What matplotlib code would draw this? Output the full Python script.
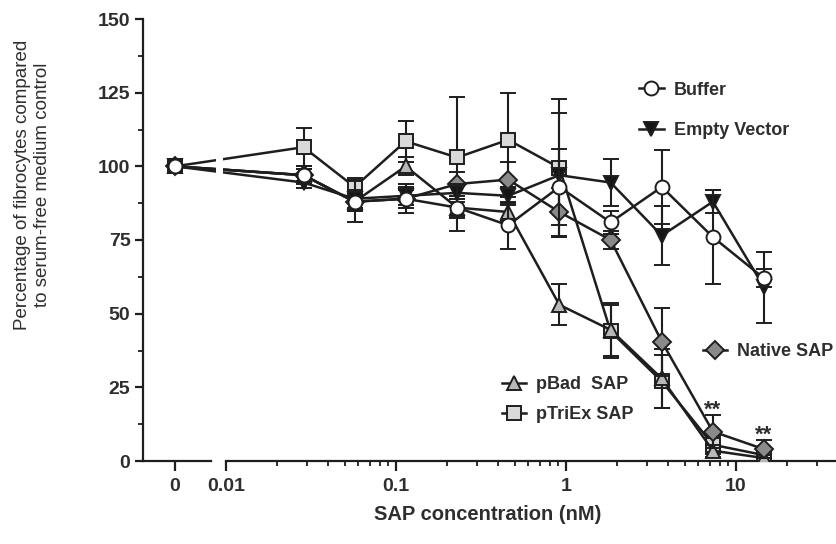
import numpy as np
import matplotlib
matplotlib.use('Agg')
import matplotlib.pyplot as plt
from matplotlib.lines import Line2D
from matplotlib.ticker import FixedLocator, FixedFormatter, NullFormatter

plt.rcParams['font.family'] = ['Liberation Sans', 'DejaVu Sans']

# SAP concentration (nM), 0 = serum-free control
conc = [0, 0.0286, 0.0571, 0.114, 0.229, 0.457, 0.914, 1.83, 3.66, 7.31, 14.6]

buffer_mean = [100, 97, 88, 89, 86, 80, 93, 81, 93, 76, 62]
buffer_err = [0, 3, 7, 5, 8, 8, 13, 4, 12.5, 16, 3]

empty_mean = [100, 94.5, 89, 90, 91, 90, 97, 94.5, 76.5, 88, 59]
empty_err = [0, 2, 3, 3, 3, 3, 21, 8, 10, 4, 12]

native_mean = [100, 97, 88, 89, 94, 95.5, 84.5, 75, 40.5, 10, 4]
native_err = [0, 2, 3, 3, 4, 6, 8, 3, 11.5, 5.5, 3]

pbad_mean = [100, 97, 88, 100, 86, 84.5, 53, 44.5, 28, 3.5, 1]
pbad_err = [0, 2, 3, 3, 3, 3, 7, 9, 10, 2, 1]

ptriex_mean = [100, 106.5, 93, 108.5, 103, 109, 99.5, 44, 27, 5.5, 2]
ptriex_err = [0, 6.5, 3, 7, 20.5, 16, 23.5, 9, 9, 3, 1]

x_major = [0, 0.01, 0.1, 1, 10]
x_major_labels = ['0', '0.01', '0.1', '1', '10']
y_major = [0, 25, 50, 75, 100, 125, 150]

# broken axis: "0" sits left of the log decades
ZERO_POS = -2.3
SLOPE = 30.0


def fwd(x):
    x = np.asarray(x, dtype=float)
    with np.errstate(divide='ignore', invalid='ignore'):
        lg = np.log10(np.where(x > 0, x, 1.0))
    return np.where(x >= 0.01, lg, ZERO_POS + x * SLOPE)


def inv(y):
    y = np.asarray(y, dtype=float)
    return np.where(y >= -2.0, 10.0 ** y, (y - ZERO_POS) / SLOPE)


fig = plt.figure(figsize=(8.37, 5.44), dpi=100)
ax = fig.add_axes([143 / 837, 83 / 544, 694 / 837, 442 / 544])
ax.set_xscale('function', functions=(fwd, inv))
ax.set_xlim(inv(-2.488), inv(1.594))
ax.set_ylim(0, 150)

dark = '#1e1e1e'
txt = '#2e2e2e'
series = [
    ('pTriEx SAP', ptriex_mean, ptriex_err, 's', '#d9d9d9', 10, 3.0),
    ('pBad  SAP', pbad_mean, pbad_err, '^', '#b8b8b8', 10, 3.1),
    ('Native SAP', native_mean, native_err, 'D', '#8a8a8a', 9, 3.2),
    ('Empty Vector', empty_mean, empty_err, 'v', '#151515', 10.5, 3.3),
    ('Buffer', buffer_mean, buffer_err, 'o', 'white', 10, 3.4),
]
handles = {}
for name, m, e, mk, fc, ms, z in series:
    ax.errorbar(conc, m, yerr=e, color=dark, lw=1.8, marker=mk, ms=ms,
                mfc=fc, mec=dark, mew=1.4, capsize=6, capthick=1.5,
                elinewidth=1.5, zorder=z)
    handles[name] = Line2D([], [], color=dark, lw=1.8, marker=mk, ms=ms,
                           mfc=fc, mec=dark, mew=1.4)

# gap in the lines at the axis break
ax.axvspan(0.0080, 0.0094, color='white', zorder=5, lw=0)

# significance marks
for i in [9, 10]:
    ax.annotate('**', xy=(conc[i], native_mean[i] + native_err[i]),
                xytext=(0, 0), textcoords='offset points', ha='center',
                va='baseline', fontsize=16, fontweight='bold', color=txt)

# spines
for s in ['top', 'right']:
    ax.spines[s].set_visible(False)
ax.spines['left'].set_linewidth(1.6)
ax.spines['left'].set_color(dark)
ax.spines['bottom'].set_linewidth(1.6)
ax.spines['bottom'].set_color(dark)
ax.spines['bottom'].set_bounds(0.01, inv(1.594))
ax.axhline(0, xmin=0, xmax=(211 - 143) / 694, color=dark, lw=1.6,
           clip_on=False, zorder=6)

# ticks
ax.xaxis.set_major_locator(FixedLocator(x_major))
ax.xaxis.set_major_formatter(FixedFormatter(x_major_labels))
minor = [k * d for d in [0.01, 0.1, 1, 10] for k in range(2, 10)]
minor = [v for v in minor if v < 40]
ax.xaxis.set_minor_locator(FixedLocator(minor))
ax.xaxis.set_minor_formatter(NullFormatter())
ax.yaxis.set_major_locator(FixedLocator(y_major))
ax.yaxis.set_minor_locator(FixedLocator([12.5 + 25 * k for k in range(6)]))
ax.tick_params(axis='both', which='major', direction='out', length=6,
               width=1.6, color=dark, labelsize=14, labelcolor=txt, pad=3)
ax.tick_params(axis='both', which='minor', direction='out', length=3.5,
               width=1.3, color=dark)
ax.tick_params(axis='x', which='major', length=7, pad=5)
for lab in ax.get_xticklabels() + ax.get_yticklabels():
    lab.set_fontweight('bold')

ax.set_xlabel('SAP concentration (nM)', fontsize=14.5, fontweight='bold',
              color=txt, va='top')
ax.xaxis.set_label_coords(0.496, -0.1)
ax.set_ylabel('Percentage of fibrocytes compared\nto serum-free medium control',
              fontsize=13.5, color=txt, linespacing=1.2)
ax.yaxis.set_label_coords(-0.133, 0.625)

# legends placed inside the plot
leg_kw = dict(frameon=False, borderpad=0, borderaxespad=0, handlelength=1.35,
              handletextpad=0.55,
              prop={'weight': 'bold', 'size': 13})
names = ['Buffer', 'Empty Vector']
leg1 = ax.legend([handles[n] for n in names], names, loc='center left',
                 bbox_to_anchor=(0.715, 0.793), labelspacing=1.3, **leg_kw)
for t in leg1.get_texts():
    t.set_color(txt)
ax.add_artist(leg1)
names = ['Native SAP']
leg2 = ax.legend([handles[n] for n in names], names, loc='center left',
                 bbox_to_anchor=(0.807, 0.247), **leg_kw)
for t in leg2.get_texts():
    t.set_color(txt)
ax.add_artist(leg2)
names = ['pBad  SAP', 'pTriEx SAP']
leg3 = ax.legend([handles[n] for n in names], names, loc='center left',
                 bbox_to_anchor=(0.517, 0.139), labelspacing=0.7, **leg_kw)
for t in leg3.get_texts():
    t.set_color(txt)

fig.savefig('out.png', dpi=100)
